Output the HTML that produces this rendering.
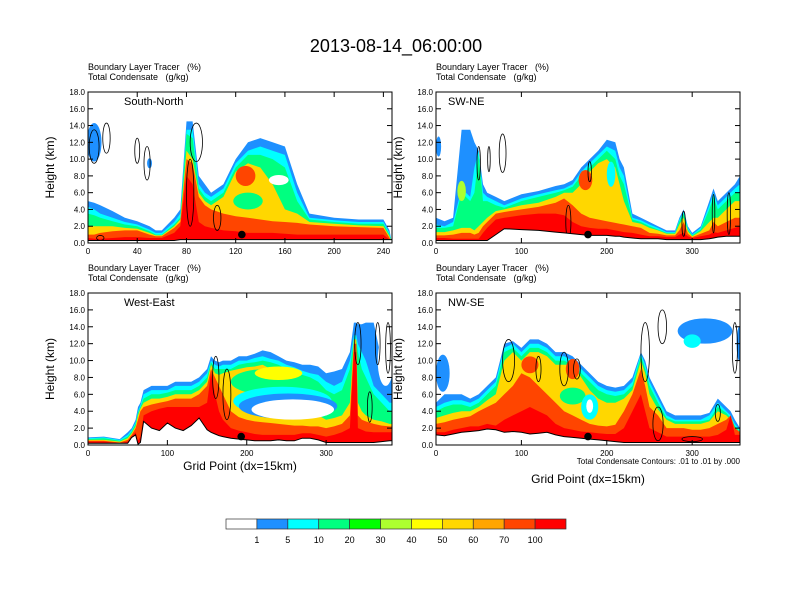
<!DOCTYPE html>
<html><head><meta charset="utf-8">
<style>
html,body{margin:0;padding:0;background:#fff;}
svg{display:block;font-family:"Liberation Sans",sans-serif;}
text{white-space:pre;}
</style></head>
<body>
<svg id="fig" width="792" height="612" viewBox="0 0 792 612">
<text x="396" y="52" font-size="18" text-anchor="middle">2013-08-14_06:00:00</text>
<g id="panels"></g>
<g id="colorbar"></g>
<text x="240" y="470" font-size="12" text-anchor="middle">Grid Point (dx=15km)</text>
<text x="588" y="483" font-size="12" text-anchor="middle">Grid Point (dx=15km)</text>
<text x="740" y="464" font-size="8" text-anchor="end">Total Condensate Contours: .01 to .01 by .000</text>
</svg>
<script>
// ---- colorbar data ----
const cbColors = ["#ffffff","#1e90ff","#00ffff","#00ff80","#00ff00","#adff2f","#ffff00","#ffd700","#ffa500","#ff4500","#ff0000"];
const cbLabels = ["1","5","10","20","30","40","50","60","70","100"];
// band colors used for filled layers (blue, cyan, green, yellow/gold, orangered, red)
const bandColors = ["#1e90ff","#00ffff","#00ff80","#ffd700","#ff4500","#ff0000"];

// ---- South-North ----
const snX = [0,5,10,20,30,40,50,55,60,70,75,80,85,90,95,100,110,120,130,140,150,160,170,180,200,220,240,245,247];
const snBlue = [5,4.8,4.5,3.8,3,2.6,2,1.5,1.5,3,4,14.5,14.5,8,7,6,7,10,12,12.5,12,11.5,7,3.5,3,2.8,2.8,1.5,0];
const snCyan = [4.3,4,3.5,3,2.5,2.2,1.6,1.2,1.2,2.5,3.5,13.5,13.5,7,6,5.5,6.5,9.5,11,11.5,11,10.5,6,3,2.7,2.5,2.5,1.2,0];
const snGreen = [3.5,3.3,3,2.6,2.2,2,1.4,1,1,2.2,3,13,12.5,6.5,5.5,5,6,9,10.5,10.5,10,9,5,2.8,2.5,2.3,2.3,1,0];
const snYellow = [2,2,2,2,1.8,1.7,1.2,0.9,0.9,2,2.8,11,10,6,5,4.5,5.5,8.5,9.5,9,7,4,3.5,2.5,2.3,2.1,2,0.8,0];
const snOrange = [1,1,1.2,1.4,1.5,1.5,1,0.8,0.8,1.8,2.5,10,9.5,5.5,4.5,4,3.5,3.2,3,2.8,2.6,2.5,2.4,2.2,2,1.9,1.8,0.6,0];
const snRed = [0.6,0.5,0.5,0.6,0.7,0.7,0.6,0.6,0.6,1.2,2,8,7,2.5,2,1.8,1.5,1.4,1.2,1.2,1.2,1.1,1,1,1,1,1,0.4,0];
const snTerrain = [0.3,0.3,0.3,0.3,0.3,0.3,0.3,0.3,0.3,0.3,0.4,0.4,0.4,0.4,0.4,0.4,0.4,0.4,0.4,0.4,0.4,0.4,0.4,0.4,0.4,0.4,0.4,0.4,0.4];
const snBlobs = [[5,12,6,2.3,"#1e90ff"],[50,9.5,2,0.6,"#1e90ff"],[155,7.5,8,0.6,"#ffffff"],[130,5,12,1,"#00ff80"],[128,8,8,1.2,"#ff4500"]];
const snContours = [[5,11.5,4,2],[15,12.5,3,1.8],[40,11,2,1.5],[48,9.5,2.5,2],[88,12,5,2.3],[83,6,3,4],[105,3,3,1.5],[10,0.6,3,0.3]];

// ---- SW-NE ----
const swX = [0,10,20,30,40,45,50,55,60,70,80,100,120,140,150,160,170,180,190,200,210,215,220,230,240,250,260,270,280,285,290,295,300,310,320,325,330,340,350,356];
const swBlue = [3,2.6,3,13.5,13.5,12,11,7,6,5.5,5,5.8,6.2,6.8,7,7.5,9,10,11,12.3,12,10,9,3.5,3,2.5,2,1.5,1.5,3,4,2,1.2,2,5,6.5,5,6,7,8];
const swCyan = [2.2,2,2.5,6.5,5.5,9,11,6,5.5,5,4.5,5.3,5.8,6.3,6.5,7,8.5,9.5,10.5,11.5,11,9,8,3,2.7,2.2,1.8,1.3,1.3,2.8,3.7,1.8,1,1.8,4.5,6,4.5,5.5,6.5,7];
const swGreen = [1.8,1.8,2,6,5,6,10.5,5,5,4.5,4.2,5,5.5,6,6.3,6.7,8,9,10,11,10,8,7,2.8,2.5,2,1.6,1.2,1.2,2.6,3.5,1.6,0.9,1.6,4,5.5,4,5,6,6];
const swYellow = [1.3,1.3,1.5,1.8,1.8,1.5,2,2.5,3,3.8,4,4.5,4.8,5.5,6,6,7,8.5,9.5,10,9,7,5,2.5,2.3,1.8,1.5,1.1,1.1,2.2,3,1.4,0.8,1.4,2.5,3,3,4,5,5];
const swOrange = [0.9,0.9,1,1.2,1.2,1,1.2,2,2.5,3.5,3.7,4,4.3,4.8,5.3,4.5,3.5,3,2.8,2.6,2.4,2.3,2.2,2,1.8,1.2,1.1,0.9,0.9,1.5,2.5,1.1,0.7,1.1,1.5,2.5,2,2.5,3,3];
const swRed = [0.6,0.6,0.5,0.5,0.5,0.5,0.5,1.2,1.8,2.8,3,3.3,3.5,3.5,3.3,2.5,2,1.8,1.7,1.7,1.5,1.4,1.3,1.2,1,0.8,0.8,0.7,0.7,1,1.2,0.8,0.6,0.8,1,1.3,1.2,1.5,1.8,2];
const swTerrain = [0.3,0.3,0.3,0.3,0.3,0.3,0.3,0.3,0.3,1,1.7,1.6,1.5,1.3,1.2,1.1,1,0.9,0.9,0.9,0.8,0.8,0.7,0.6,0.5,0.5,0.5,0.4,0.4,0.4,0.4,0.4,0.4,0.4,0.5,0.6,0.7,0.8,0.8,0.8];
const swBlobs = [[3,11.5,3,1.2,"#1e90ff"],[205,8.2,5,1.5,"#00ffff"],[30,6.2,5,1.2,"#adff2f"],[175,7.5,8,1.2,"#ff4500"]];
const swContours = [[50,9.5,2,2],[62,10,1.5,1.5],[78,10.7,4,2.3],[180,8.5,2,1.2],[155,2.5,3,2],[290,2.3,2,1.5],[325,3.5,1.5,2.3],[343,3.5,2,2.5]];

// ---- West-East ----
const weX = [0,20,40,50,55,60,63,66,70,80,90,100,110,120,130,140,150,155,160,165,170,180,190,200,210,220,230,240,250,260,270,280,290,300,310,320,330,335,338,340,345,350,360,370,380,383];
const weBlue = [0.9,1,0.7,1.5,2,3,4.5,5,6.5,7,7,7,7.5,7.5,7.5,8,9,10.5,10,9.8,10,10,10.5,10.5,10.8,11.2,11,10.5,10,9.8,9.5,9.5,9.3,8.5,8.7,9,11,14.5,14.5,14.3,14.3,14.5,14.5,10,8,8];
const weCyan = [0.8,0.9,0.6,1.2,1.8,2.7,4,4.7,6,6.5,6.5,6.5,7,7,7,7.5,8.5,10,9.5,9.3,9.5,9.5,10,10,10.3,10.5,10.2,10,9.5,9.2,8.8,8.5,8.3,7.5,7,7.5,10,13,13,12,11,10,7,6,5,5];
const weGreen = [0.7,0.8,0.5,1,1.6,2.5,3.8,4.5,5.5,6,6,6.2,6.5,6.5,6.5,7,8,9.8,9,9,9,9,9.5,9.7,9.8,10,9.8,9.5,9,8.8,8.3,8,7.5,6.5,6,6.5,9,12.5,12.5,11,9,8,6,5,4,4];
const weYellow = [0.6,0.6,0.4,0.8,1.4,2.2,3.5,4.3,5,5.5,5.5,5.7,6,6,6,6.5,7.5,9.5,8.5,8.3,8.5,8.8,9,9.2,9.3,9.5,9,8.5,7.5,6.5,5.5,4.5,3.5,3,3.2,3.5,5,12.5,12.5,5,4,3.5,3,2.8,2.5,2.5];
const weOrange = [0.5,0.5,0.3,0.6,1.2,2,3,4,4.5,4.8,5,5.2,5.5,5.5,5.5,6,7,9,8,7,6,4,3.3,3,2.8,2.7,2.6,2.5,2.4,2.3,2.3,2.2,2.2,2,2.2,2.5,3.5,12,12,3.5,3,2.8,2.5,2.3,2.2,2.2];
const weRed = [0.4,0.4,0.2,0.4,1,1.5,0.5,1,3.5,4,4.3,4.5,4.5,4.5,4.5,4.5,5,8.5,6,4,3,2,1.7,1.5,1.3,1.2,1.2,1.2,1.2,1.2,1.4,1.4,1.2,1,1.2,1.5,2,11,11,2,1.8,1.6,1.5,1.5,1.5,1.5];
const weTerrain = [0.2,0.2,0.2,0.2,0.9,1.2,0.1,0.3,2.8,2,1.7,2.6,2,1.7,2.3,3.2,1.8,1.5,1.3,1.1,1,0.8,0.7,0.6,0.5,0.5,0.5,0.6,0.5,0.5,0.8,0.8,0.6,0.3,0.3,0.3,0.3,0.3,0.3,0.3,0.3,0.3,0.3,0.4,0.5,0.5];
const weBlobs = [[225,7.5,45,1.5,"#00ff80"],[245,5.2,62,1.7,"#00ffff"],[252,4.6,62,1.5,"#1e90ff"],[258,4.2,52,1.2,"#ffffff"],[375,10,10,3,"#ffffff"],[240,8.5,30,0.8,"#ffff00"]];
const weContours = [[161,8,4,2.5],[175,6,5,3],[340,12,4,2.5],[365,12,3,2.5],[378,11.5,3,3],[355,4.5,3,1.8]];

// ---- NW-SE ----
const nwX = [0,10,20,30,40,50,60,70,80,90,100,110,120,130,140,150,160,170,180,190,200,210,220,230,240,245,250,260,270,280,290,300,310,320,330,340,345,350,356];
const nwBlue = [5,6,6,6,5.5,6,7,8,12,12.3,11.5,12.5,12.5,12,11,11,10.5,9.5,8.5,7.5,7,6.8,7,8,11,10,8,6,4,3.5,3.5,3.5,3.5,3.8,5.5,4.5,4,3,2];
const nwCyan = [4.5,5,5.3,5.3,5,5.5,6.5,7.5,11.5,12,11,12,12,11.5,10.5,10.5,10,9,8,7,6.5,6.3,6.5,7.5,10.8,9.5,7.5,5.5,3.5,3,3,3,3,3.5,5,4,3.5,2.5,1.8];
const nwGreen = [4,4.5,4.8,4.8,4.5,5,6,7,11,11.5,10.5,11.5,11.5,11,10,10,9.5,8.5,7.5,6.5,6,5.8,6,7,10.5,9,7,5,3.2,2.8,2.8,2.8,2.8,3,4.5,3.8,3.2,2.2,1.6];
const nwYellow = [3.2,3.5,3.8,4,4,4.5,5.3,6,10,11,10,11,11,10.5,9.5,9.5,9.5,8,6.5,5.5,5,5,5.5,6.5,10,8.5,6,4.2,3,2.5,2.5,2.5,2.5,2.8,4,3.5,3,2,1.5];
const nwOrange = [2.5,2.7,3,3.2,3.4,4,4.5,5,6,7,8.5,8,7,6,5,4,3.5,3,2.5,2.3,2.2,2.4,4,6,9,7,4.5,3.5,2,2,2,1.8,1.8,2,2.5,3,3.5,2,1.5];
const nwRed = [1.5,1.5,1.8,2,2.2,2.2,2.5,2.3,3,3.5,4,4.5,4,3.5,2.5,2,1.8,1.6,1.5,1.4,1.3,1.3,2,4,6,4,2,1.5,1,1,1,1,1,1,1.2,1.8,3.5,1.2,1.2];
const nwTerrain = [1.2,1.1,1.3,1.5,1.6,1.7,1.9,1.8,1.5,1.6,1.5,1.3,1.4,1.5,1.2,1,0.9,0.8,0.7,0.6,0.5,0.4,0.3,0.3,0.3,0.3,0.3,0.3,0.3,0.3,0.3,0.3,0.3,0.3,0.3,0.3,0.3,0.3,0.3];
const nwBlobs = [[8,8.5,8,2.2,"#1e90ff"],[0,11,2,1,"#ffffff"],[315,13.5,32,1.5,"#1e90ff"],[300,12.3,10,0.8,"#00ffff"],[355,12,3,2,"#1e90ff"],[160,5.8,15,1,"#00ff80"],[180,4.5,10,1.5,"#00ffff"],[180,4.6,4,0.8,"#ffffff"],[110,9.5,10,1,"#ff4500"],[160,9,8,1.2,"#ff4500"]];
const nwContours = [[85,10,7,2.5],[120,9,3,1.5],[150,9,5,2],[165,9,4,1.2],[245,11,5,3.5],[265,14,5,2],[330,3.8,3,1],[350,11.5,3,3],[260,2.5,6,2],[300,0.7,12,0.3]];

// ---- markers (cross-section centre, height) ----
const markerX = [125,178,193,178];
const markerY = [1.0,1.0,1.0,1.0];

const panels = [
 {name:"south-north", title:"South-North", x0:88,y0:92,w:304,h:151,xmax:247, xticks:[0,40,80,120,160,200,240], xs:snX, bands:[snBlue,snCyan,snGreen,snYellow,snOrange,snRed], terr:snTerrain, blobs:snBlobs, cont:snContours},
 {name:"sw-ne", title:"SW-NE", x0:436,y0:92,w:304,h:151,xmax:356, xticks:[0,100,200,300], xs:swX, bands:[swBlue,swCyan,swGreen,swYellow,swOrange,swRed], terr:swTerrain, blobs:swBlobs, cont:swContours},
 {name:"west-east", title:"West-East", x0:88,y0:293,w:304,h:152,xmax:383, xticks:[0,100,200,300], xs:weX, bands:[weBlue,weCyan,weGreen,weYellow,weOrange,weRed], terr:weTerrain, blobs:weBlobs, cont:weContours},
 {name:"nw-se", title:"NW-SE", x0:436,y0:293,w:304,h:152,xmax:356, xticks:[0,100,200,300], xs:nwX, bands:[nwBlue,nwCyan,nwGreen,nwYellow,nwOrange,nwRed], terr:nwTerrain, blobs:nwBlobs, cont:nwContours}
];
const yticks = [0,2,4,6,8,10,12,14,16,18];

const NS = "http://www.w3.org/2000/svg";
function mk(tag, attrs, parent){ const e=document.createElementNS(NS,tag); for(const k in attrs) e.setAttribute(k,attrs[k]); parent.appendChild(e); return e; }

const root = document.getElementById("panels");
panels.forEach((p,pi)=>{
  const sx = v => p.x0 + v*p.w/p.xmax;
  const sy = v => p.y0 + p.h - v*p.h/18;
  const g = mk("g",{},root);
  
  
  const cid = "clip"+pi;
  const cp = mk("clipPath",{id:cid},g);
  mk("rect",{x:p.x0,y:p.y0,width:p.w,height:p.h},cp);
  const plot = mk("g",{"clip-path":"url(#"+cid+")"},g);
  p.bands.forEach((arr,bi)=>{
    let d = "M"+sx(p.xs[0])+","+sy(0);
    p.xs.forEach((x,i)=>{ d += " L"+sx(x).toFixed(1)+","+sy(arr[i]).toFixed(1); });
    d += " L"+sx(p.xs[p.xs.length-1])+","+sy(0)+" Z";
    const el = mk("path",{d:d,fill:bandColors[bi],stroke:"none"},plot);
    
    
  });
  p.blobs.forEach(b=>{
    const el = mk("ellipse",{cx:sx(b[0]),cy:sy(b[1]),rx:Math.abs(b[2]*p.w/p.xmax),ry:b[3]*p.h/18,fill:b[4]},plot);
    
    
  });
  p.cont.forEach(c=>{
    const el = mk("ellipse",{cx:sx(c[0]),cy:sy(c[1]),rx:c[2]*p.w/p.xmax,ry:c[3]*p.h/18,fill:"none",stroke:"#000","stroke-width":0.8},plot);
    
    
  });
  let td = "M"+sx(p.xs[0])+","+sy(-1);
  let tl = "";
  p.xs.forEach((x,i)=>{ td += " L"+sx(x).toFixed(1)+","+sy(p.terr[i]).toFixed(1); tl += (i?" L":"M")+sx(x).toFixed(1)+","+sy(p.terr[i]).toFixed(1); });
  td += " L"+sx(p.xs[p.xs.length-1])+","+sy(-1)+" Z";
  const tf = mk("path",{d:td,fill:"#fff"},plot);
  
  
  mk("path",{d:tl,fill:"none",stroke:"#000","stroke-width":1},plot);
  const m = mk("circle",{cx:sx(markerX[pi]),cy:sy(markerY[pi]),r:3.8,fill:"#000"},plot);
  
  
  const fr = mk("rect",{x:p.x0,y:p.y0,width:p.w,height:p.h,fill:"none",stroke:"#000","stroke-width":1},g);
  
  
  yticks.forEach(t=>{
    const y = sy(t);
    mk("line",{x1:p.x0,y1:y,x2:p.x0+5,y2:y,stroke:"#000"},g);
    mk("line",{x1:p.x0+p.w,y1:y,x2:p.x0+p.w-5,y2:y,stroke:"#000"},g);
    const tx = mk("text",{x:p.x0-3,y:y+3,"font-size":8,"text-anchor":"end"},g);
    tx.textContent = t.toFixed(1);
    
    
  });
  p.xticks.forEach(t=>{
    const x = sx(t);
    mk("line",{x1:x,y1:p.y0+p.h,x2:x,y2:p.y0+p.h-5,stroke:"#000"},g);
    mk("line",{x1:x,y1:p.y0,x2:x,y2:p.y0+5,stroke:"#000"},g);
    const tx = mk("text",{x:x,y:p.y0+p.h+11,"font-size":8,"text-anchor":"middle"},g);
    tx.textContent = t;
    
    
  });
  const l1 = mk("text",{x:p.x0,y:p.y0-22,"font-size":9},g);
  l1.textContent = "Boundary Layer Tracer   (%)";
  
  
  const l2 = mk("text",{x:p.x0,y:p.y0-12,"font-size":9},g);
  l2.textContent = "Total Condensate   (g/kg)";
  
  
  const pt = mk("text",{x:p.x0+(pi%2?12:36),y:p.y0+13,"font-size":11},g);
  pt.textContent = p.title;
  
  
  const yt = mk("text",{x:0,y:0,"font-size":12,"text-anchor":"middle",transform:"translate("+(p.x0-34)+","+(p.y0+p.h/2)+") rotate(-90)"},g);
  yt.textContent = "Height (km)";
  
  
});

const cb = document.getElementById("colorbar");
const cbx = 226, cby = 519, cbw = 340/11, cbh = 10;
cbColors.forEach((c,i)=>{
  const r = mk("rect",{x:cbx+i*cbw,y:cby,width:cbw,height:cbh,fill:c,stroke:"#333","stroke-width":0.7},cb);
  
  
});
cbLabels.forEach((l,i)=>{
  const t = mk("text",{x:cbx+(i+1)*cbw,y:543,"font-size":9,"text-anchor":"middle"},cb);
  t.textContent = l;
  
  
});
</script>
</body></html>
